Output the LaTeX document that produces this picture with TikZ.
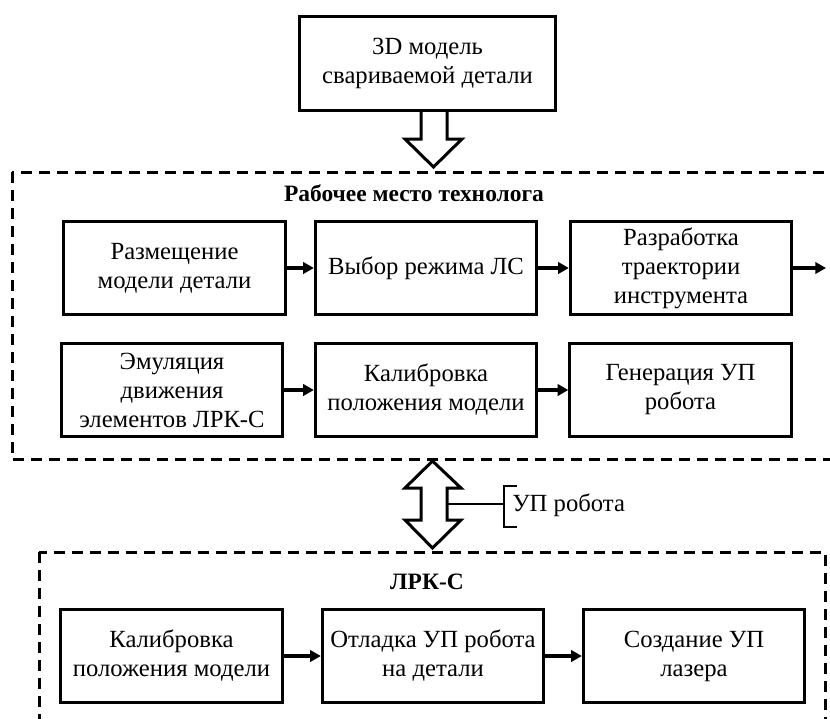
\documentclass[tikz,border=0pt]{standalone}
\usepackage{fontspec}
\setmainfont{Liberation Serif}
\usetikzlibrary{arrows.meta}
\newcommand\boxfont{\fontsize{18.5}{21.75}\selectfont}
\newcommand\titlefont{\fontsize{17.6}{21}\selectfont\bfseries}
\begin{document}
\begin{tikzpicture}[x=0.75pt,y=-0.75pt,
  box/.style={draw,line width=2.25pt,minimum width=166pt,minimum height=70pt,align=center,inner sep=2pt,font=\boxfont},
  title/.style={font=\titlefont,inner sep=0pt},
  flow/.style={line width=2.4pt,-{Triangle[length=8pt,width=8.5pt]}},
  frame/.style={line width=2.25pt,dash pattern=on 8pt off 5.5pt},
  fat/.style={line width=2.25pt,fill=white,line join=miter}]
\clip (0,0) rectangle (830,718);
\fill[white] (0,0) rectangle (830,718);
% frames
\draw[frame] (12,172) rectangle (860,459);
\draw[frame] (39,552) rectangle (825,760);
% top box
\node[box,minimum width=192pt,minimum height=70.5pt] (model) at (427.5,63.5) {3D модель\\свариваемой детали};
% block arrow down
\draw[fat] (421,112) -- (421,139) -- (405,139) -- (433.5,167) -- (462,139) -- (447,139) -- (447,112);
% upper group
\node[title] (t1) at (414,193) {Рабочее место технолога};
\node[box] (a) at (174.5,268) {Размещение\\модели детали};
\node[box] (b) at (426,268) {Выбор режима ЛС};
\node[box] (c) at (681,268) {Разработка\\траектории\\инструмента};
\node[box] (d) at (172,390) {Эмуляция\\движения\\элементов ЛРК-С};
\node[box] (e) at (426,390) {Калибровка\\положения модели};
\node[box] (f) at (680.5,390) {Генерация УП\\робота};
\coordinate (cout) at (826,268);
\draw[flow] (a) -- (b);
\draw[flow] (b) -- (c);
\draw[flow] (c) -- (cout);
\draw[flow] (d) -- (e);
\draw[flow] (e) -- (f);
% double block arrow
\draw[fat] (432.5,461) -- (461,488) -- (447,488) -- (447,520) -- (461,520) -- (432.5,548) -- (405,520) -- (421,520) -- (421,488) -- (405,488) -- cycle;
\coordinate (stem) at (447,504);
\coordinate (brk) at (504,504);
\draw[line width=2pt] (stem) -- (brk);
\draw[line width=2pt] (517,486) -- (504,486) -- (504,527) -- (517,527);
\node[font=\boxfont,anchor=west,inner sep=0pt] (lbl) at (512,505) {УП робота};
% lower group
\node[title] (t2) at (427,582) {ЛРК-С};
\node[box] (g) at (171.5,656) {Калибровка\\положения модели};
\node[box] (h) at (433,656) {Отладка УП робота\\на детали};
\node[box] (i) at (694,656) {Создание УП\\лазера};
\draw[flow] (g) -- (h);
\draw[flow] (h) -- (i);
\end{tikzpicture}
\end{document}
